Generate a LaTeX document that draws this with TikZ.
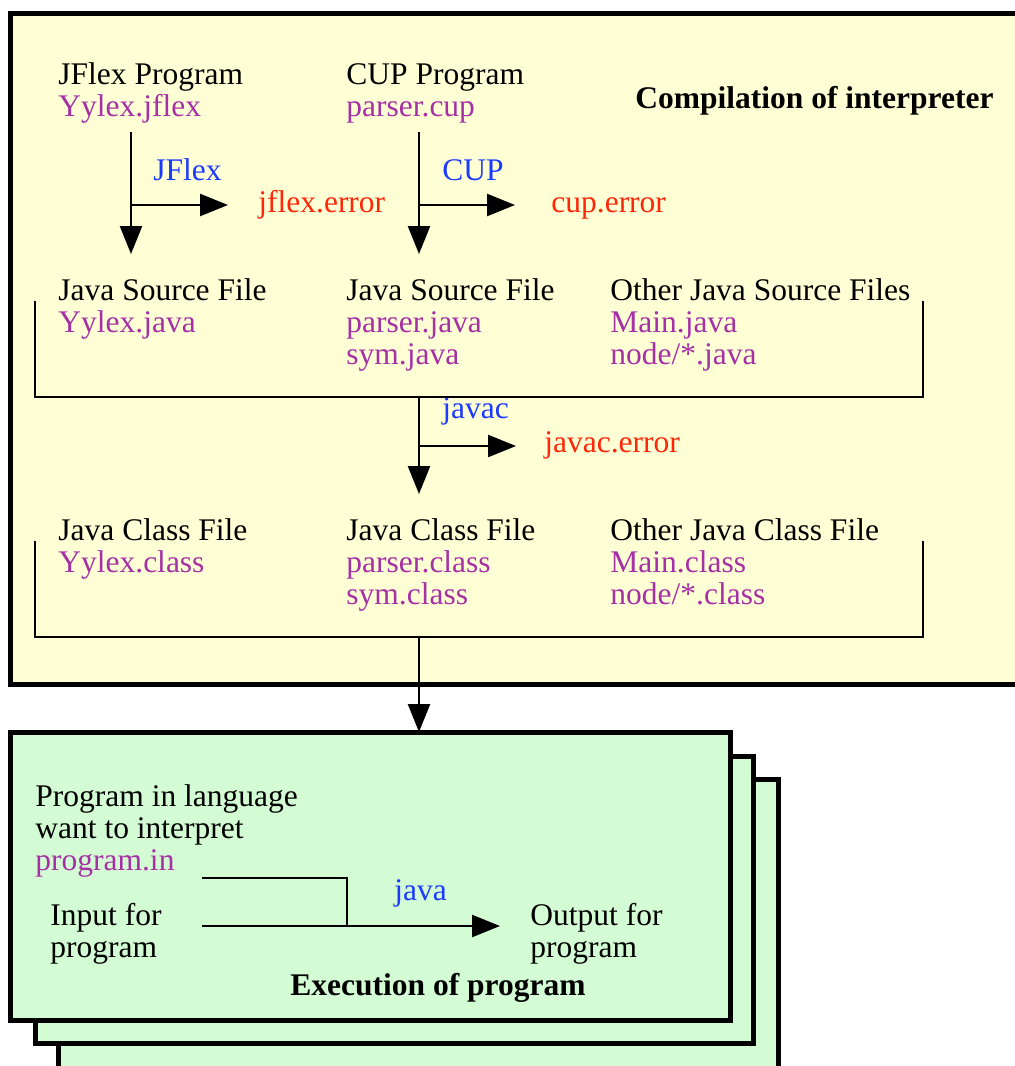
\documentclass[tikz,border=0pt]{standalone}
\usepackage{fontspec}
\setmainfont{Liberation Serif}
\usetikzlibrary{arrows.meta}
\definecolor{compyellow}{RGB}{255,255,213}
\definecolor{execgreen}{RGB}{212,252,212}
\definecolor{filepurple}{RGB}{166,48,166}
\definecolor{toolblue}{RGB}{28,58,255}
\definecolor{errred}{RGB}{255,38,10}
\begin{document}
\begin{tikzpicture}[x=0.5pt, y=-0.5pt, >={Triangle[length=14pt,width=11pt]}, font=\fontsize{15.75}{16}\selectfont]
			\tikzset{
				frame/.style={draw=black, line width=2.5pt},
				txt/.style={anchor=base west, inner sep=0pt, align=left},
				title/.style={txt, font=\fontsize{15.75}{16}\selectfont\bfseries},
				tool/.style={txt, text=toolblue},
				errfile/.style={txt, text=errred},
				bracket/.style={draw, line width=1.25pt},
				flow/.style={line width=1.25pt, ->},
			}
			\useasboundingbox (0,0) rectangle (1015,1066);
			\clip (0,0) rectangle (1015,1066);
			%compilation box
			\draw[frame, fill=compyellow] (10,13) rectangle (1030,684);
			\node[title] (comptitle) at (635,108) {Compilation of interpreter};
			% base anchor = baseline of last line
			\node[txt] (jflexprog) at (58,116) {JFlex Program\\\textcolor{filepurple}{Yylex.jflex}};
			\node[txt] (cupprog) at (346,116) {CUP Program\\\textcolor{filepurple}{parser.cup}};
			\node[tool] (jflextool) at (153,180) {JFlex};
			\node[tool] (cuptool) at (442,180) {CUP};
			\node[errfile] (jflexerr) at (258,212) {jflex.error};
			\node[errfile] (cuperr) at (551,212) {cup.error};
			\node[txt] (lexsrc) at (58,332) {Java Source File\\\textcolor{filepurple}{Yylex.java}};
			\node[txt] (parsersrc) at (346,364) {Java Source File\\\textcolor{filepurple}{parser.java}\\\textcolor{filepurple}{sym.java}};
			\node[txt] (othersrc) at (610,364) {Other Java Source Files\\\textcolor{filepurple}{Main.java}\\\textcolor{filepurple}{node/*.java}};
			\node[tool] (javactool) at (442,418) {javac};
			\node[errfile] (javacerr) at (544,452) {javac.error};
			\node[txt] (lexclass) at (58,572) {Java Class File\\\textcolor{filepurple}{Yylex.class}};
			\node[txt] (parserclass) at (346,604) {Java Class File\\\textcolor{filepurple}{parser.class}\\\textcolor{filepurple}{sym.class}};
			\node[txt] (otherclass) at (610,604) {Other Java Class File\\\textcolor{filepurple}{Main.class}\\\textcolor{filepurple}{node/*.class}};
			%brackets
			\draw[bracket] (35,301) -- (35,397) -- (923,397) -- (923,301);
			\draw[bracket] (35,541) -- (35,637) -- (923,637) -- (923,541);
			%compiler steps
			\coordinate (jflextop) at (131,132);
			\coordinate (jflexsplit) at (131,205);
			\coordinate (jflexend) at (131,254);
			\coordinate (cuptop) at (419,132);
			\coordinate (cupsplit) at (419,205);
			\coordinate (cupend) at (419,254);
			\coordinate (javactop) at (419,397);
			\coordinate (javacsplit) at (419,446);
			\coordinate (javacend) at (419,494);
			\coordinate (classout) at (419,637);
			\draw[flow] (jflextop) -- (jflexend);
			\draw[flow, shorten >=15pt] (jflexsplit) -- (jflexsplit -| jflexerr.west);
			\draw[flow] (cuptop) -- (cupend);
			\draw[flow, shorten >=18pt] (cupsplit) -- (cupsplit -| cuperr.west);
			\draw[flow] (javactop) -- (javacend);
			\draw[flow, shorten >=14pt] (javacsplit) -- (javacsplit -| javacerr.west);
			%execution boxes
			\draw[frame, fill=execgreen] (58,779) rectangle (778,1080);
			\draw[frame, fill=execgreen] (35,756) rectangle (753,1043);
			\draw[frame, fill=execgreen] (10,732) rectangle (730,1020);
			\coordinate (execin) at (419,732);
			\draw[flow] (classout) -- (execin);
			\node[txt] (source) at (35,870) {Program in language\\want to interpret\\\textcolor{filepurple}{program.in}};
			\node[txt] (input) at (50,957) {Input for\\program};
			\node[txt] (output) at (530,957) {Output for\\program};
			\node[tool] (javatool) at (394,900) {java};
			\node[title] (exectitle) at (290,995) {Execution of program};
			\coordinate (srcstart) at (202,878);
			\coordinate (srcbend) at (347,878);
			\coordinate (instart) at (202,926);
			\draw[line width=1.25pt] (srcstart) -- (srcbend) -- (srcbend |- instart);
			\draw[flow, shorten >=15pt] (instart) -- (instart -| output.west);
\end{tikzpicture}
\end{document}
